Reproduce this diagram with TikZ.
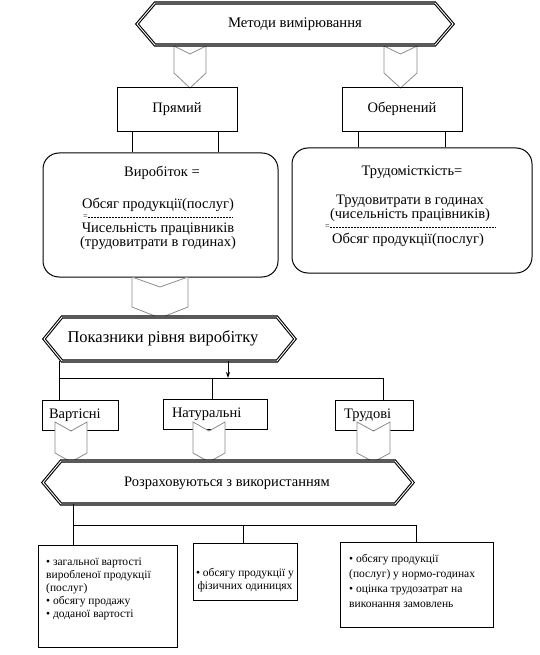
\documentclass[tikz,border=0pt]{standalone}
\usepackage{fontspec}
\setmainfont{Liberation Serif}
\usetikzlibrary{arrows.meta,calc}
\definecolor{chevgray}{RGB}{140,140,140}
\tikzset{
 box/.style={draw, line width=0.8pt, inner sep=0pt},
 rbox/.style={draw, line width=1pt, rounded corners=16pt, inner sep=0pt},
 banner/.style={draw, line width=1.1pt, double=white, double distance=0.9pt, fill=white, line join=miter},
 chevron/.style={draw=chevgray, line width=0.8pt, fill=white},
 txt/.style={inner sep=0pt, font=\fontsize{14.5}{16}\selectfont},
 txt2/.style={inner sep=0pt, align=center, font=\fontsize{14.5}{12.3}\selectfont},
 btxt/.style={inner sep=0pt, font=\fontsize{14.7}{16}\selectfont},
 ltxt/.style={inner sep=0pt, font=\fontsize{11.5}{13}\selectfont, align=left},
 eqtxt/.style={inner sep=0pt, font=\fontsize{8}{8}\selectfont},
 conn/.style={line width=0.8pt},
 frac/.style={line width=0.5pt, dash pattern=on 2pt off 1pt},
}
\newcommand\bannerpath[5]{\draw[banner] (#1,{(#3+#4)/2}) -- ({#1+#5},#3) -- ({#2-#5},#3) -- (#2,{(#3+#4)/2}) -- ({#2-#5},#4) -- ({#1+#5},#4) -- cycle;}
\newcommand\chevpath[6]{\draw[chevron] (#1,#3) -- ({(#1+#2)/2},{#3+#4}) -- (#2,#3) -- (#2,{#5-#6}) -- ({(#1+#2)/2},#5) -- (#1,{#5-#6}) -- cycle;}
\begin{document}
\begin{tikzpicture}[x=1pt,y=-1pt]
\useasboundingbox (0,0) rectangle (539,655);
% top level
\chevpath{174}{206}{46}{8}{88}{15}
\chevpath{384}{417}{46}{8}{88}{15}
\bannerpath{137}{453}{3}{45}{18}
\node[btxt] (mv) at (295,24) {Методи вимірювання};
\node[box, txt, minimum width=120pt, minimum height=44pt] (pr) at (177,109) {Прямий};
\node[box, txt, minimum width=120pt, minimum height=44pt] (ob) at (402,109) {Обернений};
% formula boxes
\node[rbox, minimum width=235pt, minimum height=124pt] (vl) at (160.5,215) {};
\node[rbox, minimum width=240pt, minimum height=125pt] (vr) at (412,210.5) {};
\draw[conn] ([xshift=-45pt]pr.south) -- ([xshift=-45pt]pr.south |- vl.north);
\draw[conn] ([xshift=41pt]pr.south) -- ([xshift=41pt]pr.south |- vl.north);
\draw[conn] ([xshift=-44pt]ob.south) -- ([xshift=-44pt]ob.south |- vr.north);
\draw[conn] ([xshift=43pt]ob.south) -- ([xshift=43pt]ob.south |- vr.north);
\node[txt] (vl1) at (162,173) {Виробіток =};
\node[txt] (vl2) at (158,205) {Обсяг продукції(послуг)};
\node[eqtxt, anchor=west] (vl3) at (83,217) {=};
\coordinate (vl3e) at (233,217);
\draw[frac] (vl3.east |- vl3e) -- (vl3e);
\node[txt2] (vl4) at (158,236) {Чисельність працівників\\(трудовитрати в годинах)};
\node[txt] (vr1) at (412,172) {Трудомісткість=};
\node[txt2] (vr2) at (410,208) {Трудовитрати в годинах\\(чисельність працівників)};
\node[eqtxt, anchor=west] (vr4) at (325,227) {=};
\coordinate (vr4e) at (495,227);
\draw[frac] (vr4.east |- vr4e) -- (vr4e);
\node[txt] (vr5) at (408,240) {Обсяг продукції(послуг)};
% indicators
\chevpath{132}{188}{277}{10}{318}{11}
\bannerpath{44}{295}{317}{361}{18}
\node[btxt, font=\fontsize{16.5}{18}\selectfont] (pk) at (163,338) {Показники рівня виробітку};
\node[box, txt, minimum width=76pt, minimum height=30pt, text width=62pt, align=left] (vart) at (80,415) {Вартісні};
\node[box, txt, minimum width=104pt, minimum height=30pt, text width=86pt, align=left] (nat) at (215,414) {Натуральні};
\node[box, txt, minimum width=78pt, minimum height=30pt, text width=60pt, align=left] (trud) at (374,415) {Трудові};
\coordinate (pkL) at (59,361);
\coordinate (pkA) at (228,361);
\coordinate (hl) at (228,378);
\coordinate (natT) at (212,378);
\coordinate (trT) at (383,378);
\draw[conn] (pkL) -- (pkL |- vart.north);
\draw[conn, -{Stealth[length=6pt,width=4pt]}] (pkA) -- (hl);
\draw[conn] (pkL |- hl) -- (trT) -- (trT |- trud.north);
\draw[conn] (natT) -- (natT |- nat.north);
% calculation
\chevpath{55}{87}{422}{9}{462}{9}
\chevpath{193}{225}{422}{9}{462}{9}
\chevpath{357}{390}{422}{9}{462}{9}
\bannerpath{43}{413}{461}{504}{18}
\node[btxt, font=\fontsize{14.5}{16}\selectfont] (rz) at (227,483) {Розраховуються з використанням};
\node[box, minimum width=139pt, minimum height=102pt, anchor=north west] (b1) at (38,545) {};
\node[box, minimum width=104pt, minimum height=57pt, anchor=north west] (b2) at (193,543) {};
\node[box, minimum width=153pt, minimum height=85pt, anchor=north west] (b3) at (340,542) {};
\coordinate (rzL) at (73,504);
\coordinate (hl2) at (73,525);
\coordinate (b2T) at (243,525);
\coordinate (b3T) at (416,525);
\draw[conn] (rzL) -- (rzL |- b1.north);
\draw[conn] (hl2) -- (b3T) -- (b3T |- b3.north);
\draw[conn] (b2T) -- (b2T |- b2.north);
\node[ltxt, anchor=north west] (b1t) at (46,558) {• загальної вартості\\виробленої продукції\\(послуг)\\• обсягу продажу\\• доданої вартості};
\node[ltxt, align=center] (b2t) at (245,580) {• обсягу продукції у\\фізичних одиницях};
\node[ltxt, anchor=north west, font=\fontsize{11.5}{15}\selectfont] (b3t) at (349,554) {• обсягу продукції\\(послуг) у нормо-годинах\\• оцінка трудозатрат на\\виконання замовлень};
\end{tikzpicture}
\end{document}
